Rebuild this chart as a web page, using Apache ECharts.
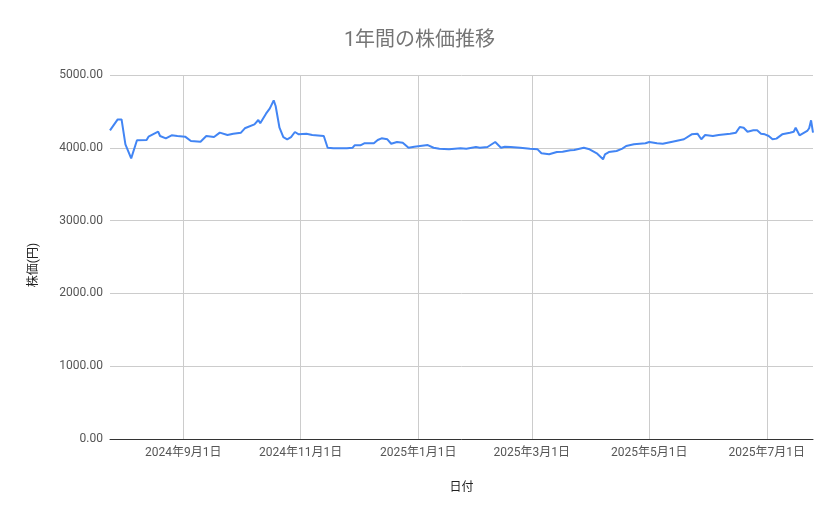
<!DOCTYPE html>
<html>
<head>
<meta charset="utf-8">
<script src="https://cdn.jsdelivr.net/npm/echarts@6/dist/echarts.min.js"></script>
<style>
html,body{margin:0;padding:0;background:#fff;}
#chart{width:839px;height:519px;}
</style>
</head>
<body>
<div id="chart"></div>
<script>
const dates = [
'2024-07-25','2024-07-29','2024-07-31','2024-08-02','2024-08-05','2024-08-08','2024-08-13','2024-08-14','2024-08-15','2024-08-19','2024-08-20','2024-08-23','2024-08-26','2024-08-29',
'2024-09-02','2024-09-05','2024-09-10','2024-09-11','2024-09-13','2024-09-17','2024-09-20','2024-09-24','2024-09-25','2024-09-27',
'2024-10-01','2024-10-03','2024-10-08','2024-10-10','2024-10-11','2024-10-14','2024-10-16','2024-10-18','2024-10-19','2024-10-21','2024-10-23','2024-10-25','2024-10-27','2024-10-29','2024-10-31',
'2024-11-04','2024-11-07','2024-11-13','2024-11-15','2024-11-18','2024-11-25','2024-11-26','2024-11-28','2024-11-29',
'2024-12-02','2024-12-04','2024-12-09','2024-12-11','2024-12-13','2024-12-16','2024-12-18','2024-12-21','2024-12-24','2024-12-25','2024-12-27','2024-12-30',
'2025-01-02','2025-01-06','2025-01-09','2025-01-12','2025-01-17','2025-01-23','2025-01-26','2025-01-31',
'2025-02-02','2025-02-06','2025-02-10','2025-02-13','2025-02-15','2025-02-18','2025-02-19','2025-02-23','2025-02-28',
'2025-03-04','2025-03-06','2025-03-10','2025-03-14','2025-03-17','2025-03-21','2025-03-23','2025-03-28','2025-03-31',
'2025-04-04','2025-04-07','2025-04-08','2025-04-10','2025-04-14','2025-04-17','2025-04-19','2025-04-23','2025-04-26','2025-04-29',
'2025-05-01','2025-05-05','2025-05-08','2025-05-13','2025-05-14','2025-05-19','2025-05-23','2025-05-26','2025-05-28','2025-05-30',
'2025-06-03','2025-06-06','2025-06-12','2025-06-13','2025-06-15','2025-06-17','2025-06-19','2025-06-21','2025-06-24','2025-06-26','2025-06-28','2025-06-30',
'2025-07-02','2025-07-04','2025-07-06','2025-07-09','2025-07-13','2025-07-15','2025-07-16','2025-07-18','2025-07-22','2025-07-23','2025-07-24','2025-07-25'
];
const prices = [
4240,4390,4390,4048,3855,4103,4107,4153,4130,4221,4162,4130,4172,4162,
4153,4093,4084,4070,4162,4148,4208,4176,4162,4194,
4208,4268,4322,4382,4336,4469,4542,4652,4574,4276,4148,4117,4148,4217,4185,
4194,4176,4162,4001,3993,3993,4011,4001,4034,
4034,4062,4062,4107,4130,4117,4056,4080,4070,4048,4001,4015,
4025,4038,4001,3988,3979,3993,3988,4011,
4001,4011,4080,4001,4015,4011,3993,4001,3988,
3979,3925,3911,3942,3945,3966,3970,4001,3979,
3919,3842,3911,3942,3956,3988,4025,4048,4056,4062,
4080,4062,4056,4084,4070,4117,4185,4194,4117,4176,
4162,4176,4194,4176,4208,4286,4276,4221,4240,4240,4194,4185,
4162,4117,4126,4185,4208,4221,4276,4172,4231,4268,4378,4208
];
const titleText = '1年間の株価推移';
const xName = '日付';
const yName = '株価(円)';

const seriesData = dates.map((d, i) => [d, prices[i]]);
const font = 'Roboto, "Noto Sans CJK JP", sans-serif';
const gridGray = '#cccccc';
const none = 'rgba(0,0,0,0)';

const chart = echarts.init(document.getElementById('chart'), null, {renderer: 'canvas'});
chart.setOption({
  animation: false,
  backgroundColor: '#ffffff',
  title: {
    text: titleText,
    left: 'center',
    top: 26,
    textStyle: {fontFamily: font, fontSize: 20, fontWeight: 'normal', color: '#757575'}
  },
  grid: {left: 110, right: 26, top: 75, bottom: 80, containLabel: false},
  xAxis: {
    type: 'time',
    min: 'dataMin',
    max: 'dataMax',
    name: xName,
    nameLocation: 'middle',
    nameGap: 43,
    nameTextStyle: {fontFamily: font, fontSize: 12, color: '#222'},
    axisLine: {show: true, lineStyle: {color: '#333', width: 1}},
    axisTick: {show: false},
    splitLine: {show: true, lineStyle: {color: [none, gridGray, gridGray, gridGray, gridGray, gridGray, gridGray, none], width: 1}},
    axisLabel: {
      showMinLabel: false,
      showMaxLabel: false,
      margin: 8,
      fontFamily: font,
      fontSize: 12,
      color: '#555',
      formatter: function (v) {
        const d = new Date(v);
        return d.getFullYear() + '年' + (d.getMonth() + 1) + '月' + d.getDate() + '日';
      }
    }
  },
  yAxis: {
    type: 'value',
    min: 0,
    max: 5000,
    interval: 1000,
    name: yName,
    nameLocation: 'middle',
    nameGap: 70,
    nameTextStyle: {fontFamily: font, fontSize: 12, color: '#222', padding: [0, 16, 0, 0]},
    axisLine: {show: false},
    axisTick: {show: false},
    splitLine: {show: true, lineStyle: {color: gridGray, width: 1}},
    axisLabel: {
      margin: 7,
      fontFamily: font,
      fontSize: 12,
      color: '#555',
      formatter: function (v) { return v.toFixed(2); }
    }
  },
  series: [{
    type: 'line',
    data: seriesData,
    showSymbol: false,
    symbol: 'none',
    lineStyle: {color: '#4285F4', width: 2},
    itemStyle: {color: '#4285F4'}
  }]
});
</script>
</body>
</html>
